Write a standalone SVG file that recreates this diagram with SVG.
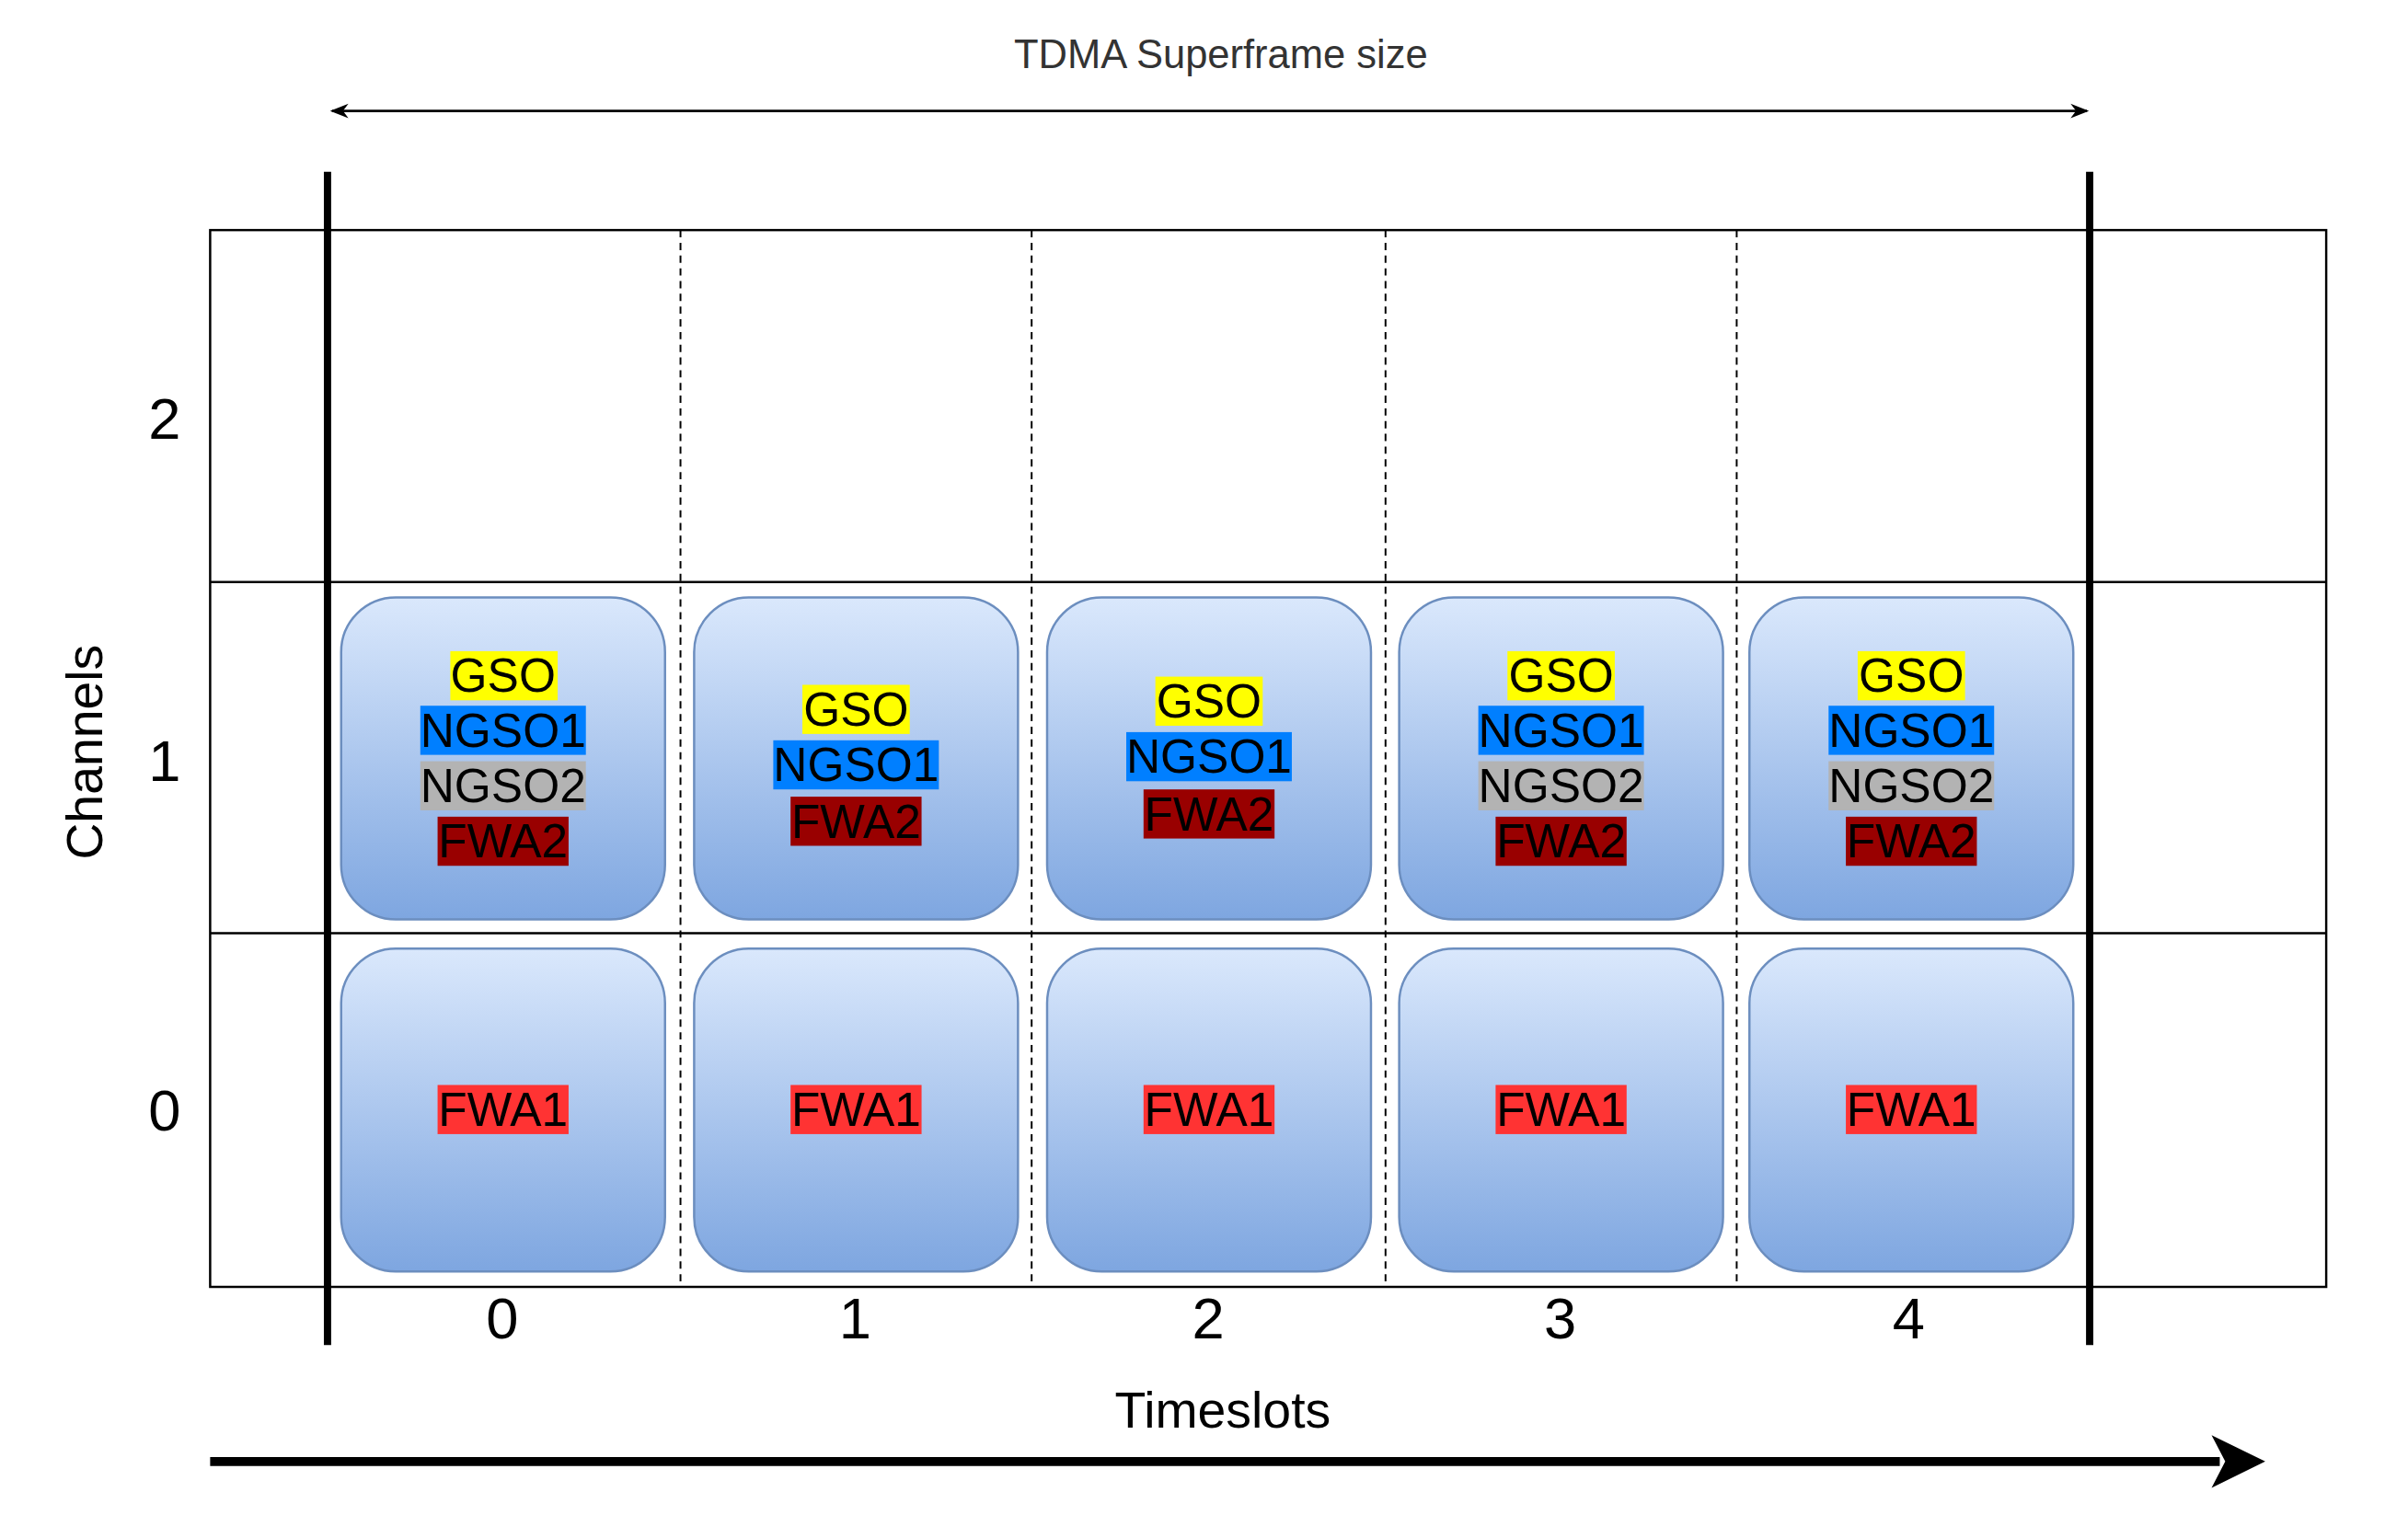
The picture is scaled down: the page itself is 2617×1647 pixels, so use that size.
<svg xmlns="http://www.w3.org/2000/svg" width="2617" height="1647" viewBox="0 0 2617 1647">
<defs>
<linearGradient id="bg" x1="0" y1="0" x2="0" y2="1"><stop offset="0" stop-color="#dae8fc"/><stop offset="1" stop-color="#7ea6e0"/></linearGradient>
<marker id="sa" viewBox="0 0 20 20" refX="18" refY="10" markerWidth="20" markerHeight="20" markerUnits="userSpaceOnUse" orient="auto-start-reverse"><path d="M0,2 L20,10 L0,18 L6,10 Z" fill="#000"/></marker>
</defs>
<style>
text{font-family:"Liberation Sans",Arial,sans-serif;text-anchor:middle}
.box{fill:url(#bg);stroke:#6c8ebf;stroke-width:2.5}
.lbl{font-size:52px;fill:#000}
.dash{stroke:#000;stroke-width:2;stroke-dasharray:8 6}
.num{font-size:64px;fill:#000}
</style>
<rect width="2617" height="1647" fill="#fff"/>
<g transform="scale(0.9887)">
<g id="grid">
<rect x="231" y="253" width="2326" height="1162" fill="none" stroke="#000" stroke-width="2.5"/>
<line x1="231" y1="640" x2="2557" y2="640" stroke="#000" stroke-width="2.5"/>
<line x1="231" y1="1026" x2="2557" y2="1026" stroke="#000" stroke-width="2.5"/>
<line class="dash" x1="748" y1="253" x2="748" y2="1415" stroke="#666"/>
<line class="dash" x1="1134" y1="253" x2="1134" y2="1415"/>
<line class="dash" x1="1523" y1="253" x2="1523" y2="1415"/>
<line class="dash" x1="1909" y1="253" x2="1909" y2="1415"/>
</g>
<g id="connectors">
<line x1="365" y1="122" x2="2294" y2="122" stroke="#000" stroke-width="3" marker-start="url(#sa)" marker-end="url(#sa)"/>
<line x1="360" y1="189" x2="360" y2="1479" stroke="#000" stroke-width="8"/>
<line x1="2297" y1="189" x2="2297" y2="1479" stroke="#000" stroke-width="8"/>
<line x1="231" y1="1607" x2="2440" y2="1607" stroke="#000" stroke-width="10"/>
<path d="M2431,1578 L2490,1607 L2431,1636 L2446,1607 Z" fill="#000"/>
</g>
<g id="labels">
<text x="1342" y="75" font-size="44" fill="#333">TDMA Superframe size</text>
<text x="1344" y="1570" font-size="56" fill="#000">Timeslots</text>
<text transform="translate(112,827) rotate(-90)" font-size="56" fill="#000">Channels</text>
<text class="num" x="181" y="482">2</text>
<text class="num" x="181" y="859">1</text>
<text class="num" x="181" y="1243">0</text>
<text class="num" x="552" y="1472">0</text>
<text class="num" x="940" y="1472">1</text>
<text class="num" x="1328" y="1472">2</text>
<text class="num" x="1715" y="1472">3</text>
<text class="num" x="2098" y="1472">4</text>
</g>
<g id="slot0ch1"><rect class="box" x="375" y="657" width="356" height="354" rx="60"/>
<rect x="495" y="716" width="118" height="54" fill="#ffff00"/><text class="lbl" x="553" y="761">GSO</text>
<rect x="462" y="776" width="182" height="54" fill="#007fff"/><text class="lbl" x="553" y="821">NGSO1</text>
<rect x="462" y="837" width="182" height="54" fill="#b3b3b3"/><text class="lbl" x="553" y="882">NGSO2</text>
<rect x="481" y="898" width="144" height="54" fill="#990000"/><text class="lbl" x="553" y="943">FWA2</text></g>
<g id="slot1ch1"><rect class="box" x="763" y="657" width="356" height="354" rx="60"/>
<rect x="882" y="753" width="118" height="54" fill="#ffff00"/><text class="lbl" x="941" y="798">GSO</text>
<rect x="850" y="814" width="182" height="54" fill="#007fff"/><text class="lbl" x="941" y="859">NGSO1</text>
<rect x="869" y="876" width="144" height="54" fill="#990000"/><text class="lbl" x="941" y="921">FWA2</text></g>
<g id="slot2ch1"><rect class="box" x="1151" y="657" width="356" height="354" rx="60"/>
<rect x="1270" y="744" width="118" height="54" fill="#ffff00"/><text class="lbl" x="1329" y="789">GSO</text>
<rect x="1238" y="805" width="182" height="54" fill="#007fff"/><text class="lbl" x="1329" y="850">NGSO1</text>
<rect x="1257" y="868" width="144" height="54" fill="#990000"/><text class="lbl" x="1329" y="913">FWA2</text></g>
<g id="slot3ch1"><rect class="box" x="1538" y="657" width="356" height="354" rx="60"/>
<rect x="1657" y="716" width="118" height="54" fill="#ffff00"/><text class="lbl" x="1716" y="761">GSO</text>
<rect x="1625" y="776" width="182" height="54" fill="#007fff"/><text class="lbl" x="1716" y="821">NGSO1</text>
<rect x="1625" y="837" width="182" height="54" fill="#b3b3b3"/><text class="lbl" x="1716" y="882">NGSO2</text>
<rect x="1644" y="898" width="144" height="54" fill="#990000"/><text class="lbl" x="1716" y="943">FWA2</text></g>
<g id="slot4ch1"><rect class="box" x="1923" y="657" width="356" height="354" rx="60"/>
<rect x="2042" y="716" width="118" height="54" fill="#ffff00"/><text class="lbl" x="2101" y="761">GSO</text>
<rect x="2010" y="776" width="182" height="54" fill="#007fff"/><text class="lbl" x="2101" y="821">NGSO1</text>
<rect x="2010" y="837" width="182" height="54" fill="#b3b3b3"/><text class="lbl" x="2101" y="882">NGSO2</text>
<rect x="2029" y="898" width="144" height="54" fill="#990000"/><text class="lbl" x="2101" y="943">FWA2</text></g>
<g id="slot0ch0"><rect class="box" x="375" y="1043" width="356" height="355" rx="60"/>
<rect x="481" y="1193" width="144" height="54" fill="#ff3333"/><text class="lbl" x="553" y="1238">FWA1</text></g>
<g id="slot1ch0"><rect class="box" x="763" y="1043" width="356" height="355" rx="60"/>
<rect x="869" y="1193" width="144" height="54" fill="#ff3333"/><text class="lbl" x="941" y="1238">FWA1</text></g>
<g id="slot2ch0"><rect class="box" x="1151" y="1043" width="356" height="355" rx="60"/>
<rect x="1257" y="1193" width="144" height="54" fill="#ff3333"/><text class="lbl" x="1329" y="1238">FWA1</text></g>
<g id="slot3ch0"><rect class="box" x="1538" y="1043" width="356" height="355" rx="60"/>
<rect x="1644" y="1193" width="144" height="54" fill="#ff3333"/><text class="lbl" x="1716" y="1238">FWA1</text></g>
<g id="slot4ch0"><rect class="box" x="1923" y="1043" width="356" height="355" rx="60"/>
<rect x="2029" y="1193" width="144" height="54" fill="#ff3333"/><text class="lbl" x="2101" y="1238">FWA1</text></g>
</g>
</svg>
